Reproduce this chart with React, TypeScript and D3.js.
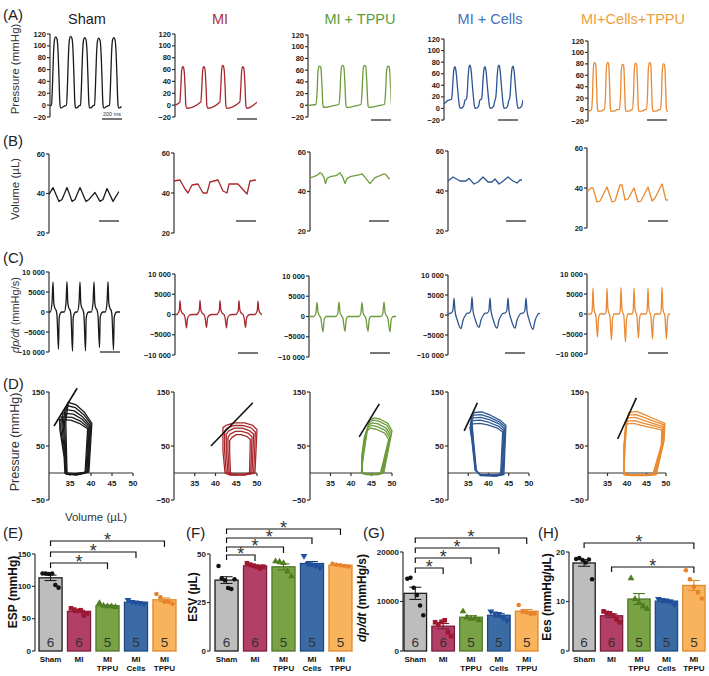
import React from 'react';
import * as d3 from 'd3';

const FONT = 'Liberation Sans, Arial, Helvetica, sans-serif';
const W = 709, H = 676;

// ---------- groups ----------
const groupNames = ['Sham', 'MI', 'MI + TPPU', 'MI + Cells', 'MI+Cells+TPPU'];
const titleColors = ['#1c1c1c', '#a83232', '#5b9b3b', '#4571b8', '#eba13f'];
const traceColors = ['#1a1a1a', '#a8282d', '#6d9b3c', '#2d5592', '#e98a32'];

// ---------- (A) LV pressure: beat shape [dt ms, fraction of peak]; beats [peak time ms, peak mmHg]
const shamPressShape = [[-60, -0.01], [-45, 0], [-35, 0.3], [-25, 0.75], [-15, 0.96], [-3, 1], [10, 0.97], [20, 0.8], [30, 0.4], [38, 0.05], [45, -0.04], [55, -0.04], [75, -0.02]];
const shamPressBeats = [[60, 115], [210, 116], [350, 114], [490, 113], [640, 114]];
const miPressShape = [[-32, 0.08], [-22, 0.45], [-13, 0.9], [-4, 1], [5, 0.98], [13, 0.85], [21, 0.45], [29, -0.02], [38, -0.08]];
const miPressBeats = [[80, 65], [290, 65], [480, 67], [680, 65]];
const miPressEnds = [[0, 0], [820, 5]];
const tppuPressShape = [[-40, 0.02], [-30, 0.3], [-20, 0.85], [-10, 0.99], [0, 1], [8, 0.97], [18, 0.6], [28, 0.05], [35, -0.05], [60, -0.05], [150, 0.0]];
const tppuPressBeats = [[120, 67], [350, 68], [570, 68], [805, 67]];
const tppuPressEnds = [[0, 0]];
const cellsPressShape = [[-35, 0.22], [-28, 0.35], [-18, 0.75], [-8, 0.97], [0, 1], [10, 0.9], [25, 0.5], [45, 0.05], [55, 0.0], [85, 0.05], [100, 0.2]];
const cellsPressBeats = [[110, 72], [260, 75], [410, 72], [550, 75], [690, 73]];
const cellsPressEnds = [[0, 8], [40, 14]];
const comboPressShape = [[-35, 0.0], [-25, 0.3], [-17, 0.85], [-8, 1], [0, 1], [8, 0.95], [16, 0.5], [24, 0.02], [30, -0.04], [70, -0.03], [85, 0.0]];
const comboPressBeats = [[70, 82], [200, 82], [350, 79], [480, 81], [620, 82], [760, 80]];
const comboPressEnds = [[0, -5], [20, -2]];

// ---------- (B) LV volume [ms, µL]
const shamVol = [[0, 39.5], [40, 43], [100, 36], [130, 37], [180, 43], [230, 36], [260, 37], [310, 43], [370, 36], [400, 37], [460, 40.5], [510, 36], [540, 37], [580, 42.5], [640, 36], [700, 41]];
const miVol = [[0, 46], [60, 46.5], [110, 42], [140, 40], [180, 44], [240, 44.5], [290, 40], [330, 40], [360, 45.5], [440, 46.5], [490, 41], [530, 40], [550, 44.5], [640, 44.5], [730, 39.5], [760, 46], [820, 46.5]];
const tppuVol = [[0, 47], [40, 47.5], [80, 48.5], [100, 49.5], [120, 49], [140, 47], [155, 44], [170, 46.5], [200, 47.5], [260, 48], [300, 49.5], [330, 47], [350, 44], [370, 46.5], [400, 47.5], [450, 48], [500, 48.5], [520, 49], [545, 47.5], [600, 44], [650, 47], [700, 48], [740, 49], [760, 48.5], [790, 46.5], [800, 46.5]];
const cellsVol = [[0, 45], [50, 47], [120, 45], [180, 45], [210, 46.3], [260, 43.5], [300, 44.5], [350, 47], [400, 44.5], [440, 44.5], [470, 46], [510, 43.5], [540, 44.5], [600, 47], [650, 45], [690, 44], [720, 45.5], [740, 45.5]];
const comboVol = [[0, 38], [40, 40], [60, 40], [100, 33], [130, 33.5], [200, 40.5], [250, 33], [280, 33.5], [330, 41.5], [350, 41.5], [380, 34], [410, 34.5], [470, 40], [510, 33], [540, 33.5], [610, 40.5], [650, 33.5], [680, 35], [750, 42], [790, 34], [810, 34]];

// ---------- (C) dp/dt: shape [dt ms, weight of +peak, weight of −peak]; beats [time, +peak, −peak]
const shamDpShape = [[-27, 0, 0], [-10, 0.3, 0], [0, 1, 0], [8, 0.3, 0], [20, 0.12, 0], [32, 0.05, 0], [40, 0, 0.1], [55, 0, 1], [62, 0, 0.15], [75, 0, 0.03], [90, 0, 0]];
const shamDpBeats = [[40, 7500, -9300], [180, 7600, -9800], [310, 7500, -9700], [450, 7500, -8900], [590, 7600, -9500]];
const shamDpEnds = [[0, 0], [710, 0]];
const miDpShape = [[-30, 0, 0], [-15, 0.15, 0], [-7, 0.3, 0], [0, 1, 0], [8, 0.35, 0], [22, 0.1, 0], [40, 0, 0], [52, 0, 0.3], [65, 0, 1], [75, 0, 0.3], [95, 0, 0.05], [115, 0, 0]];
const miDpBeats = [[50, 3400, -3300], [250, 3500, -3200], [450, 3400, -3300], [640, 3400, -3200], [830, 3300, -3200]];
const miDpEnds = [[0, 0]];
const tppuDpShape = [[-30, 0, 0], [-12, 0.2, 0], [0, 1, 0], [10, 0.3, 0], [25, 0.05, 0], [38, 0, 0.1], [60, 0, 1], [72, 0, 0.2], [90, 0, 0]];
const tppuDpBeats = [[80, 3500, -3800], [300, 3600, -3700], [530, 3500, -3700], [750, 3600, -3800]];
const tppuDpEnds = [[0, 0], [870, 0]];
const cellsDpShape = [[-45, 0.1, 0], [-25, 0.12, 0], [-10, 0.3, 0], [0, 1, 0], [10, 0.25, 0], [30, 0, 0.3], [70, 0, 1], [90, 0, 0.4], [115, 0, 0], [130, 0.1, 0]];
const cellsDpBeats = [[60, 4200, -3400], [240, 4500, -3100], [420, 4300, -3300], [600, 4300, -3300], [780, 4300, -3600]];
const cellsDpEnds = [[0, 0], [920, 300]];
const comboDpShape = [[-20, 0, 0], [-8, 0.15, 0], [0, 1, 0], [8, 0.25, 0], [18, 0.05, 0], [28, 0, 0.05], [45, 0, 1], [55, 0, 0.2], [70, 0, 0], [100, 0, 0]];
const comboDpBeats = [[60, 6500, -5800], [200, 6400, -6500], [340, 6600, -7000], [470, 6500, -6000], [610, 6500, -6300], [750, 6700, -6200]];
const comboDpEnds = [[0, 0], [830, 0]];

// ---------- (D) PV loops [volume µL, pressure mmHg]
const shamLoops = [
  [[39.5, 2], [40.2, 92], [38.5, 112], [36.5, 126], [34.6, 131], [34.0, 95], [34.2, 30], [34.3, -2], [36.5, -4], [38.5, 0]],
  [[39.3, 2], [40.0, 90], [38.3, 108], [36.3, 121], [34.2, 125], [33.7, 92], [34.0, 30], [34.2, -2], [36.5, -3], [38.5, 0]],
  [[39.2, 2], [39.8, 88], [38.0, 104], [36.0, 115], [33.8, 118], [33.4, 90], [33.9, 30], [34.1, -1], [36.5, -3], [38.3, 0]],
  [[39.0, 2], [39.6, 86], [37.8, 100], [35.8, 109], [33.3, 111], [33.1, 86], [33.8, 30], [34.0, -1], [36.3, -2], [38.1, 0]],
  [[38.8, 2], [39.4, 84], [37.5, 96], [35.5, 103], [32.9, 104], [32.8, 82], [33.7, 30], [33.9, -1], [36.2, -2], [38.0, 0]],
  [[38.6, 2], [39.2, 82], [37.2, 92], [35.2, 98], [32.5, 99], [32.6, 80], [33.6, 30], [33.8, 0], [36.0, -1], [37.8, 0]],
];
const miLoops = [
  [[49.5, 0], [50.0, 80], [49, 88], [47, 93], [44.5, 93], [42.5, 88], [41.8, 84], [41.8, 40], [42.3, 0], [43.5, -4], [47, -4]],
  [[49.2, 0], [49.6, 76], [48.5, 84], [46.5, 88], [44.5, 88], [42.8, 83], [42.2, 78], [42.2, 40], [42.6, 0], [43.8, -3], [47, -3]],
  [[48.8, 0], [49.2, 72], [48.0, 79], [46.5, 83], [44.5, 83], [43.2, 78], [42.6, 72], [42.6, 40], [43.0, 0], [44, -3], [47, -3]],
  [[48.5, 0], [48.8, 67], [47.8, 74], [46.3, 77], [44.8, 77], [43.5, 72], [43.0, 66], [43.0, 40], [43.3, 0], [44.3, -2], [47, -2]],
  [[48.2, 0], [48.4, 62], [47.5, 68], [46.2, 71], [45, 71], [44, 66], [43.4, 60], [43.4, 40], [43.6, 0], [44.5, -2], [47, -2]],
];
const tppuLoops = [
  [[48, 0], [50, 78], [49, 92], [47, 100], [45.6, 102], [44.6, 98], [44, 80], [43, 30], [42.5, 0], [44, -3], [46.5, -3]],
  [[47.8, 0], [49.8, 74], [48.8, 88], [46.8, 96], [45.4, 98], [44.4, 93], [43.8, 76], [42.9, 30], [42.6, 0], [44, -3], [46.5, -3]],
  [[47.6, 0], [49.6, 70], [48.6, 83], [46.6, 91], [45.2, 93], [44.2, 88], [43.6, 72], [42.8, 30], [42.6, 0], [44, -2], [46.5, -2]],
  [[47.4, 0], [49.4, 66], [48.4, 79], [46.4, 86], [45, 88], [44, 83], [43.4, 68], [42.7, 30], [42.7, 0], [44, -2], [46.3, -2]],
  [[47.2, 0], [49.2, 62], [48.2, 74], [46.2, 81], [44.8, 83], [43.8, 78], [43.2, 64], [42.6, 30], [42.8, 0], [44, -2], [46.2, -2]],
];
const cellsLoops = [
  [[43.8, -3], [44.3, 88], [43, 97], [40.5, 107], [38.3, 113], [36.5, 112], [35.8, 105], [36.3, 60], [37, 5], [38, -5], [42, -6]],
  [[43.6, -2], [44.1, 85], [42.8, 94], [40.3, 103], [38.2, 108], [36.4, 107], [35.7, 100], [36.2, 60], [36.9, 5], [38, -4], [42, -5]],
  [[43.4, -2], [43.9, 82], [42.6, 91], [40.2, 99], [38.1, 103], [36.3, 102], [35.6, 95], [36.1, 60], [36.8, 5], [38, -4], [42, -4]],
  [[43.2, -1], [43.7, 79], [42.4, 87], [40, 94], [38, 98], [36.2, 97], [35.5, 90], [36, 60], [36.8, 5], [38, -3], [42, -4]],
  [[43.0, -1], [43.5, 76], [42.2, 83], [39.8, 89], [37.9, 92], [36.1, 91], [35.4, 85], [35.9, 60], [36.7, 5], [38, -3], [42, -3]],
];
const comboLoops = [
  [[47.5, -3], [49.5, 60], [49.7, 92], [47, 100], [44.5, 108], [42.5, 114], [40.5, 112], [40, 100], [39.5, 50], [39.2, -3], [41, -5], [45, -5]],
  [[47.3, -3], [49.4, 58], [49.5, 89], [46.8, 96], [44.3, 103], [42.3, 108], [40.4, 107], [39.9, 96], [39.4, 50], [39.2, -3], [41, -4], [45, -4]],
  [[47.1, -2], [49.2, 56], [49.3, 86], [46.6, 92], [44.1, 98], [42.1, 103], [40.3, 102], [39.8, 92], [39.3, 50], [39.2, -2], [41, -4], [45, -4]],
  [[46.9, -2], [49, 54], [49.1, 83], [46.4, 88], [43.9, 93], [41.9, 97], [40.2, 96], [39.7, 88], [39.3, 50], [39.2, -2], [41, -3], [45, -3]],
  [[46.7, -1], [48.8, 52], [48.9, 80], [46.2, 84], [43.7, 88], [41.7, 92], [40.1, 91], [39.6, 84], [39.2, 50], [39.2, -1], [41, -3], [45, -3]],
];
const espvrLines = [
  [[31.2, 87], [36.7, 157]],
  [[38.9, 50], [49.0, 130]],
  [[42.0, 67], [46.9, 128]],
  [[34.0, 78], [37.25, 130]],
  [[37.6, 63], [42.4, 139]],
];

// ---------- (E–H) summary bars
const barCategories = ['Sham', 'MI', 'MI\nTPPU', 'MI\nCells', 'MI\nTPPU'];
const nLabels = ['6', '6', '5', '5', '5'];
const espPoints = [[120, 120, 119, 120, 102, 98], [66, 64, 62, 63, 55, 58], [74, 70, 69, 69, 68], [79, 76, 75, 74, 73], [88, 83, 76, 76, 73]];
const esvPoints = [[43.8, 37.5, 36.5, 32.5, 32, 37], [45.2, 44.5, 44, 43.5, 42.5, 43.5], [46.2, 46, 45.3, 41, 38.5], [49, 45, 44.5, 44, 43], [45, 44.5, 44.2, 43.8, 43.5]];
const dpdtPoints = [[14600, 14800, 12800, 11300, 9200, 7200], [5800, 5400, 5900, 6200, 3800, 3000], [8000, 6800, 6500, 6600, 6200], [8000, 7600, 7500, 6800, 6200], [9300, 8000, 7800, 7500, 7600]];
const eesPoints = [[18.6, 18.8, 18.4, 17.9, 18.5, 14.5], [8.0, 7.7, 7.6, 7.2, 6.4, 5.8], [14.7, 10.5, 9.8, 9.0, 8.5], [10.5, 10.3, 10.2, 10.0, 9.4], [16.3, 14.5, 13.0, 11.8, 10.6]];
const barFill = ['#bdbdbd', '#b23f68', '#78a244', '#3a6ba4', '#f8b35c'];
const barStroke = ['#1e1e1e', '#7c1d3d', '#4e7a27', '#1f4a80', '#de8a2e'];
const markColor = ['#111111', '#9e1830', '#4f7d22', '#1f4f9e', '#e8822a'];
const markType = [d3.symbolCircle, d3.symbolSquare, d3.symbolTriangle, 'inv', d3.symbolCircle];

// ---------- helpers
function buildBeats(shape: number[][], beats: number[][], ends: number[][] = []) {
  const pts: number[][] = ends.map((e) => [e[0], e[1]]);
  for (const b of beats) {
    for (const s of shape) {
      pts.push([b[0] + s[0], s[1] * b[1] + (s.length > 2 ? s[2] * b[2] : 0)]);
    }
  }
  pts.sort((a, b) => a[0] - b[0]);
  return pts;
}

const pressureTraces = [
  buildBeats(shamPressShape, shamPressBeats),
  buildBeats(miPressShape, miPressBeats, miPressEnds),
  buildBeats(tppuPressShape, tppuPressBeats, tppuPressEnds),
  buildBeats(cellsPressShape, cellsPressBeats, cellsPressEnds),
  buildBeats(comboPressShape, comboPressBeats, comboPressEnds),
];
const volumeTraces = [shamVol, miVol, tppuVol, cellsVol, comboVol];
const dpTraces = [
  buildBeats(shamDpShape, shamDpBeats, shamDpEnds),
  buildBeats(miDpShape, miDpBeats, miDpEnds),
  buildBeats(tppuDpShape, tppuDpBeats, tppuDpEnds),
  buildBeats(cellsDpShape, cellsDpBeats, cellsDpEnds),
  buildBeats(comboDpShape, comboDpBeats, comboDpEnds),
];
const pvLoops = [shamLoops, miLoops, tppuLoops, cellsLoops, comboLoops];

// ---------- layout
const pressLayout = { axisX: [50, 175, 308, 444, 588], yPix: [[34, 117], [34, 117], [35, 117], [39, 120], [41, 121]], T: [720, 820, 828, 790, 800], barEnd: [720, 820, 830, 740, 790], barY: [119, 119, 120, 120, 120] };
const volLayout = { axisX: [49, 174, 310, 448, 587], yPix: [[154, 233], [153, 233], [152, 231], [151, 231], [148, 228]], T: [700, 820, 800, 740, 810], barEnd: [700, 820, 790, 780, 810], barY: [221, 221, 221, 221, 221] };
const dpLayout = { axisX: [49, 175, 309, 448, 587], yPix: [[272, 352], [274, 355], [276, 357], [275, 355], [274, 354]], T: [710, 870, 870, 920, 830], barEnd: [710, 830, 810, 770, 810], barY: [352, 353, 353, 353, 353] };
const pvLayout = { axisX: [49, 174, 310, 448, 588], xEnd: [133, 257, 392, 529, 666] };
const titleX = [87, 220, 360, 490, 633];

const MINUS = '\u2212';
const fmtInt = (d: number) => (d < 0 ? MINUS + Math.abs(d) : String(d));
const fmtDp = (d: number) => {
  const a = Math.abs(d);
  const s = a >= 10000 ? String(a).replace(/(\d)(\d{3})$/, '$1 $2') : String(a);
  return (d < 0 ? MINUS : '') + s;
};

function YAxis({ x, scale, ticks, fmt, fs = 7.5 }: any) {
  const r = scale.range();
  return (
    <g>
      <line x1={x} x2={x} y1={Math.min(r[0], r[1])} y2={Math.max(r[0], r[1])} stroke="#333" strokeWidth={1.2} />
      {ticks.map((t: number) => (
        <g key={t}>
          <line x1={x - 3} x2={x} y1={scale(t)} y2={scale(t)} stroke="#333" strokeWidth={1.2} />
          <text x={x - 4} y={scale(t)} dy="0.35em" textAnchor="end" fontSize={fs} fontWeight="bold" fill="#222">{fmt(t)}</text>
        </g>
      ))}
    </g>
  );
}

function TracePanel({ id, axisX, yPix, domain, ticks, fmt, T, pts, color, barEnd, barY, barLabel, linear }: any) {
  const x = d3.scaleLinear().domain([0, T]).range([axisX, axisX + T * 0.1]);
  const y = d3.scaleLinear().domain(domain).range([yPix[1], yPix[0]]);
  const line = d3.line<number[]>().x((d) => x(d[0])).y((d) => y(d[1])).curve(linear ? d3.curveLinear : d3.curveMonotoneX);
  return (
    <g>
      <clipPath id={id}><rect x={axisX} y={0} width={T * 0.1} height={H} /></clipPath>
      <YAxis x={axisX} scale={y} ticks={ticks} fmt={fmt} />
      <path d={line(pts) || ''} clipPath={`url(#${id})`} fill="none" stroke={color} strokeWidth={1.3} strokeLinejoin="round" />
      <line x1={x(barEnd - 200)} x2={x(barEnd)} y1={barY} y2={barY} stroke="#555" strokeWidth={1.6} />
      {barLabel && (
        <text x={(x(barEnd - 200) + x(barEnd)) / 2} y={barY - 3} textAnchor="middle" fontSize={5.5} fill="#333">{barLabel}</text>
      )}
    </g>
  );
}

function PVPanel({ axisX, xEnd, loops, espvr, color }: any) {
  const x = d3.scaleLinear().domain([30, 50]).range([axisX, xEnd]);
  const y = d3.scaleLinear().domain([-50, 150]).range([500, 392]);
  const loopLine = d3.line<number[]>().x((d) => x(d[0])).y((d) => y(d[1])).curve(d3.curveLinearClosed);
  const straight = d3.line<number[]>().x((d) => x(d[0])).y((d) => y(d[1]));
  const xt = [35, 40, 45, 50];
  return (
    <g>
      <YAxis x={axisX} scale={y} ticks={[-50, 50, 150]} fmt={fmtInt} fs={8} />
      <line x1={axisX} x2={xEnd} y1={y(0)} y2={y(0)} stroke="#333" strokeWidth={1.2} />
      {xt.map((t) => (
        <g key={t}>
          <line x1={x(t)} x2={x(t)} y1={y(0)} y2={y(0) + 3} stroke="#333" strokeWidth={1.2} />
          <text x={x(t)} y={y(0) + 13} textAnchor="middle" fontSize={8} fontWeight="bold" fill="#222">{t}</text>
        </g>
      ))}
      {loops.map((l: number[][], i: number) => (
        <path key={i} d={loopLine(l) || ''} fill="none" stroke={color} strokeWidth={1.3} strokeLinejoin="round" />
      ))}
      <path d={straight(espvr) || ''} stroke="#111" strokeWidth={1.6} fill="none" />
    </g>
  );
}

function Marker({ type, x, y, color }: any) {
  if (type === 'inv') {
    const p = d3.symbol().type(d3.symbolTriangle).size(20)();
    return <path d={p || ''} transform={`translate(${x},${y}) rotate(180)`} fill={color} />;
  }
  const size = type === d3.symbolSquare ? 22 : type === d3.symbolTriangle ? 20 : 16;
  const p = d3.symbol().type(type).size(size)();
  return <path d={p || ''} transform={`translate(${x},${y})`} fill={color} />;
}

function BarPanel({ axisX, band, yMax, yTop, ticks, fmt, points, brackets, label, labelX, labelY }: any) {
  const x = d3.scaleBand<number>().domain([0, 1, 2, 3, 4]).range(band).paddingInner(0.19).paddingOuter(0);
  const y = d3.scaleLinear().domain([0, yMax]).range([651, yTop]);
  const bw = x.bandwidth();
  return (
    <g>
      <YAxis x={axisX} scale={y} ticks={ticks} fmt={fmt} fs={8} />
      <text transform={`translate(${labelX},${labelY}) rotate(-90)`} textAnchor="middle" dy="0.35em" fontSize={12} fontWeight="bold" fill="#111">{label}</text>
      {points.map((arr: number[], i: number) => {
        const m = d3.mean(arr) as number;
        const sem = (d3.deviation(arr) as number) / Math.sqrt(arr.length);
        const x0 = x(i) as number;
        const cx = x0 + bw / 2;
        const n = arr.length;
        return (
          <g key={i}>
            <rect x={x0} y={y(m)} width={bw} height={651 - y(m)} fill={barFill[i]} stroke={barStroke[i]} strokeWidth={1.3} />
            <line x1={cx} x2={cx} y1={y(m - sem)} y2={y(m + sem)} stroke={barStroke[i]} strokeWidth={1.1} />
            <line x1={cx - 6} x2={cx + 6} y1={y(m + sem)} y2={y(m + sem)} stroke={barStroke[i]} strokeWidth={1.1} />
            <line x1={cx - 6} x2={cx + 6} y1={y(m - sem)} y2={y(m - sem)} stroke={barStroke[i]} strokeWidth={1.1} />
            {arr.map((v, j) => (
              <Marker key={j} type={markType[i]} x={cx + (j - (n - 1) / 2) * (16 / (n - 1))} y={y(v)} color={markColor[i]} />
            ))}
            <text x={cx} y={647} textAnchor="middle" fontSize={13.5} fill="#333">{nLabels[i]}</text>
            {barCategories[i].split('\n').map((s, k) => (
              <text key={k} x={cx} y={662 + k * 9} textAnchor="middle" fontSize={8} fontWeight="bold" fill="#111">{s}</text>
            ))}
          </g>
        );
      })}
      {brackets.map((b: number[], k: number) => {
        const xa = (x(b[0]) as number) + bw / 2;
        const xb = (x(b[1]) as number) + bw / 2;
        return (
          <g key={k}>
            <path d={`M${xa},${b[2] + 5}V${b[2]}H${xb}V${b[2] + 6}`} fill="none" stroke="#111" strokeWidth={1.2} />
            <text x={(xa + xb) / 2} y={b[2] + 5} textAnchor="middle" fontSize={18} fill="#333">*</text>
          </g>
        );
      })}
    </g>
  );
}

function Letter({ x, y, t }: any) {
  return <text x={x} y={y} fontSize={15} fill="#222">{t}</text>;
}

function RotLabel({ x, y, fs, children }: any) {
  return (
    <text transform={`translate(${x},${y}) rotate(-90)`} textAnchor="middle" dy="0.35em" fontSize={fs} fill="#333">{children}</text>
  );
}

export default function App() {
  return (
    <svg width={W} height={H} style={{ position: 'absolute', left: 0, top: 0, display: 'block' }} fontFamily={FONT}>
      <rect width={W} height={H} fill="#fff" />
      {groupNames.map((g, i) => (
        <text key={g} x={titleX[i]} y={23.5} textAnchor="middle" fontSize={14.5} fill={titleColors[i]}>{g}</text>
      ))}
      <Letter x={3} y={20} t="(A)" />
      <Letter x={3} y={146} t="(B)" />
      <Letter x={3} y={263} t="(C)" />
      <Letter x={3} y={389} t="(D)" />
      <Letter x={3} y={538} t="(E)" />
      <Letter x={186} y={538} t="(F)" />
      <Letter x={363} y={538} t="(G)" />
      <Letter x={538} y={538} t="(H)" />

      <RotLabel x={15} y={69} fs={11.5}>Pressure (mmHg)</RotLabel>
      <RotLabel x={15} y={189} fs={11.5}>Volume (µL)</RotLabel>
      <RotLabel x={15} y={315} fs={11}><tspan fontStyle="italic">dp/dt</tspan> (mmHg/s)</RotLabel>
      <RotLabel x={15} y={442} fs={12.5}>Pressure (mmHg)</RotLabel>
      <text x={96} y={521} textAnchor="middle" fontSize={11.5} fill="#333">Volume (µL)</text>

      {groupNames.map((g, i) => (
        <g key={'row' + i}>
          <TracePanel id={'pc' + i} axisX={pressLayout.axisX[i]} yPix={pressLayout.yPix[i]} domain={[-20, 120]} ticks={[-20, 0, 20, 40, 60, 80, 100, 120]} fmt={fmtInt} T={pressLayout.T[i]} pts={pressureTraces[i]} color={traceColors[i]} barEnd={pressLayout.barEnd[i]} barY={pressLayout.barY[i]} barLabel={i === 0 ? '200 ms' : null} />
          <TracePanel id={'vc' + i} linear axisX={volLayout.axisX[i]} yPix={volLayout.yPix[i]} domain={[20, 60]} ticks={[20, 40, 60]} fmt={fmtInt} T={volLayout.T[i]} pts={volumeTraces[i]} color={traceColors[i]} barEnd={volLayout.barEnd[i]} barY={volLayout.barY[i]} />
          <TracePanel id={'dc' + i} axisX={dpLayout.axisX[i]} yPix={dpLayout.yPix[i]} domain={[-10000, 10000]} ticks={[-10000, -5000, 0, 5000, 10000]} fmt={fmtDp} T={dpLayout.T[i]} pts={dpTraces[i]} color={traceColors[i]} barEnd={dpLayout.barEnd[i]} barY={dpLayout.barY[i]} />
          <PVPanel axisX={pvLayout.axisX[i]} xEnd={pvLayout.xEnd[i]} loops={pvLoops[i]} espvr={espvrLines[i]} color={traceColors[i]} />
        </g>
      ))}

      <BarPanel axisX={35} band={[39, 176]} yMax={150} yTop={554} ticks={[0, 50, 100, 150]} fmt={fmtInt} points={espPoints} brackets={[[0, 2, 563], [0, 3, 552], [0, 4, 541]]} label="ESP (mmHg)" labelX={13} labelY={592} />
      <BarPanel axisX={210} band={[215, 352]} yMax={50} yTop={554} ticks={[0, 25, 50]} fmt={fmtInt} points={esvPoints} brackets={[[0, 1, 555], [0, 2, 547], [0, 3, 538], [0, 4, 529]]} label="ESV (µL)" labelX={193} labelY={597} />
      <BarPanel axisX={403} band={[404, 538]} yMax={20000} yTop={552} ticks={[0, 10000, 20000]} fmt={(d: number) => String(d)} points={dpdtPoints} brackets={[[0, 1, 568], [0, 2, 558], [0, 3, 548], [0, 4, 538]]} label={<><tspan fontStyle="italic">dp/dt</tspan> (mmHg/s)</>} labelX={362} labelY={598} />
      <BarPanel axisX={569} band={[573, 705]} yMax={20} yTop={552} ticks={[0, 10, 20]} fmt={fmtInt} points={eesPoints} brackets={[[0, 4, 543], [1, 4, 567]]} label="Ees (mmHg/µL)" labelX={547} labelY={597} />
    </svg>
  );
}
